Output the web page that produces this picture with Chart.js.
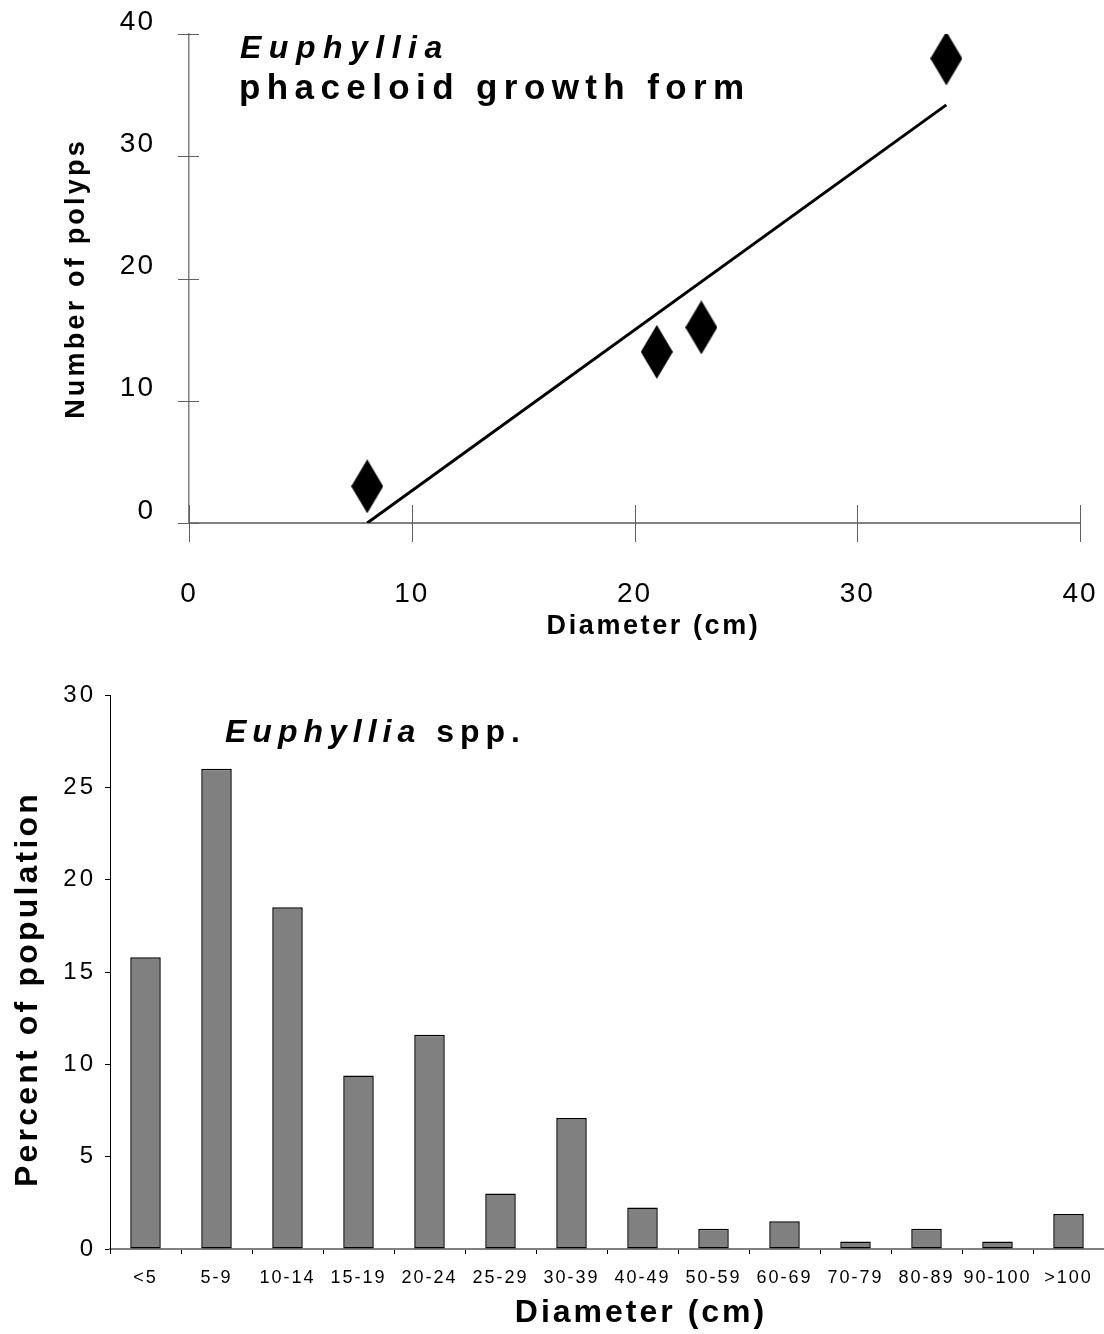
<!DOCTYPE html>
<html>
<head>
<meta charset="utf-8">
<script src="https://cdn.jsdelivr.net/npm/chart.js@4.4.1/dist/chart.umd.min.js"></script>
<style>
  body { margin: 0; background: #fff; width: 1104px; height: 1334px; overflow: hidden; font-family: "Liberation Sans", Arial, sans-serif; }
  .panel { position: relative; width: 1104px; }
  .panel canvas { display: block; }
  .note { position: absolute; font-weight: bold; color: #000; white-space: nowrap; }
</style>
</head>
<body>
<div class="panel" style="height:660px">
  <canvas id="polypChart" width="1104" height="660"></canvas>
  <div class="note" style="left:240px; top:31px; font-size:32px; line-height:32px; letter-spacing:7.5px; font-style:italic">Euphyllia</div>
  <div class="note" style="left:239px; top:69px; font-size:35px; line-height:35px; letter-spacing:6.4px">phaceloid growth form</div>
</div>
<div class="panel" style="height:674px">
  <canvas id="sizeChart" width="1104" height="674"></canvas>
  <div class="note" style="left:225px; top:55px; font-size:32px; line-height:32px; letter-spacing:6px"><i>Euphyllia</i> spp.</div>
</div>
<script>
// top panel: colony diameter vs number of polyps
const polypDiameter = [8, 21, 23, 34];
const polypCount = [3, 14, 16, 38];
const trendDiameter = [8, 34];
const trendCount = [0, 34.2];
const polypXTicks = [0, 10, 20, 30, 40];
const polypYTicks = [0, 10, 20, 30, 40];

// bottom panel: size frequency
const sizeClasses = ['<5', '5-9', '10-14', '15-19', '20-24', '25-29', '30-39', '40-49', '50-59', '60-69', '70-79', '80-89', '90-100', '>100'];
const percentPopulation = [15.8, 26.0, 18.5, 9.4, 11.6, 3.0, 7.1, 2.25, 1.1, 1.5, 0.4, 1.1, 0.4, 1.9];
const percentTicks = [0, 5, 10, 15, 20, 25, 30];

const FONT = '"Liberation Sans", Arial, sans-serif';
Chart.defaults.font.family = FONT;
Chart.defaults.color = '#000';

function diamondMarker(w, h) {
    const c = document.createElement('canvas');
    c.width = w;
    c.height = h;
    const g = c.getContext('2d');
    g.fillStyle = '#000';
    g.beginPath();
    g.moveTo(w / 2, 0);
    g.lineTo(w, h / 2);
    g.lineTo(w / 2, h);
    g.lineTo(0, h / 2);
    g.closePath();
    g.fill();
    return c;
}

function fixedTicks(values) {
    return scale => { scale.ticks = values.map(v => ({ value: v })); };
}

// fixed axis box size; drop the label overhang padding so the plot area stays put
function fixedSize(w, h) {
    return scale => {
        if (w) scale.width = w;
        if (h) scale.height = h;
        scale.paddingLeft = scale.paddingRight = scale.paddingTop = scale.paddingBottom = 0;
    };
}

// the old figure has very airy lettering, so add letter spacing to the axis text
function axisText(cfg) {
    return {
        id: 'axisText',
        afterUpdate(chart) {
            Object.values(chart.scales).forEach(scale => {
                const c = cfg[scale.id];
                if (!c || scale._spaced) return;
                scale._spaced = true;
                const drawLabels = scale.drawLabels.bind(scale);
                const drawTitle = scale.drawTitle.bind(scale);
                scale.drawLabels = function (area) {
                    this.ctx.save();
                    this.ctx.letterSpacing = c.tick + 'px';
                    drawLabels(area);
                    this.ctx.restore();
                };
                scale.drawTitle = function () {
                    this.ctx.save();
                    this.ctx.letterSpacing = c.title + 'px';
                    this.ctx.translate(c.dx || 0, c.dy || 0);
                    drawTitle();
                    this.ctx.restore();
                };
            });
        }
    };
}

// tick marks that cross the axis line
const crossTicks = {
    id: 'crossTicks',
    beforeDatasetsDraw(chart) {
        const { ctx, scales: { x, y } } = chart;
        ctx.save();
        ctx.strokeStyle = '#606060';
        ctx.lineWidth = 1;
        ctx.beginPath();
        x.ticks.forEach(t => {
            const px = Math.round(x.getPixelForValue(t.value)) + 0.5;
            ctx.moveTo(px, x.top - 18);
            ctx.lineTo(px, x.top + 19);
        });
        y.ticks.forEach(t => {
            const py = Math.round(y.getPixelForValue(t.value)) + 0.5;
            ctx.moveTo(y.right - 11, py);
            ctx.lineTo(y.right + 10, py);
        });
        ctx.stroke();
        ctx.restore();
    }
};

new Chart(document.getElementById('polypChart'), {
    type: 'scatter',
    data: {
        datasets: [
            {
                data: polypDiameter.map((d, i) => ({ x: d, y: polypCount[i] })),
                pointStyle: diamondMarker(32, 54),
                backgroundColor: '#000',
                borderColor: '#000'
            },
            {
                type: 'line',
                data: trendDiameter.map((d, i) => ({ x: d, y: trendCount[i] })),
                borderColor: '#000',
                borderWidth: 3,
                pointRadius: 0,
                fill: false
            }
        ]
    },
    options: {
        responsive: false,
        animation: false,
        layout: { padding: { top: 34, right: 24, left: 0, bottom: 0 } },
        plugins: { legend: { display: false }, tooltip: { enabled: false } },
        scales: {
            x: {
                type: 'linear',
                min: 0,
                max: 40,
                afterBuildTicks: fixedTicks(polypXTicks),
                afterFit: fixedSize(0, 137),
                grid: { display: false },
                border: { color: '#808080', width: 2 },
                ticks: { padding: 46, maxRotation: 0, font: { size: 28 } },
                title: {
                    display: true,
                    text: 'Diameter (cm)',
                    font: { size: 27, weight: 'bold' },
                    padding: { top: 0, bottom: 17 }
                }
            },
            y: {
                min: 0,
                max: 40,
                afterBuildTicks: fixedTicks(polypYTicks),
                afterFit: fixedSize(189, 0),
                grid: { display: false },
                border: { color: '#808080', width: 1.5 },
                ticks: { padding: 26, labelOffset: -12, font: { size: 28 } },
                title: {
                    display: true,
                    text: 'Number of polyps',
                    font: { size: 27, weight: 'bold' },
                    padding: { top: 60, bottom: 0 }
                }
            }
        }
    },
    plugins: [crossTicks, axisText({ x: { tick: 2, title: 2.6, dx: 19 }, y: { tick: 2, title: 3.2 } })]
});

new Chart(document.getElementById('sizeChart'), {
    type: 'bar',
    data: {
        labels: sizeClasses,
        datasets: [{
            data: percentPopulation,
            backgroundColor: '#808080',
            borderColor: '#000',
            borderWidth: 1.5,
            borderSkipped: false,
            barPercentage: 0.43,
            categoryPercentage: 1
        }]
    },
    options: {
        responsive: false,
        animation: false,
        layout: { padding: { top: 35, right: 0, left: 0, bottom: 0 } },
        plugins: { legend: { display: false }, tooltip: { enabled: false } },
        scales: {
            x: {
                afterFit: fixedSize(0, 85),
                grid: { drawOnChartArea: false, tickLength: 5, color: '#000', offset: true },
                border: { color: '#808080', width: 2 },
                ticks: { padding: 13, autoSkip: false, maxRotation: 0, font: { size: 18 } },
                title: {
                    display: true,
                    text: 'Diameter (cm)',
                    font: { size: 32, weight: 'bold' },
                    padding: { top: 0, bottom: 2 }
                }
            },
            y: {
                min: 0,
                max: 30,
                afterBuildTicks: fixedTicks(percentTicks),
                afterFit: fixedSize(110, 0),
                grid: { drawOnChartArea: false, tickLength: 5, color: '#000' },
                border: { color: '#000', width: 1 },
                ticks: { padding: 9, font: { size: 24 } },
                title: {
                    display: true,
                    text: 'Percent of population',
                    font: { size: 32, weight: 'bold' },
                    padding: { top: 9, bottom: 0 }
                }
            }
        }
    },
    plugins: [axisText({ x: { tick: 2, title: 3, dx: 34 }, y: { tick: 3, title: 3.2, dy: 17 } })]
});
</script>
</body>
</html>
